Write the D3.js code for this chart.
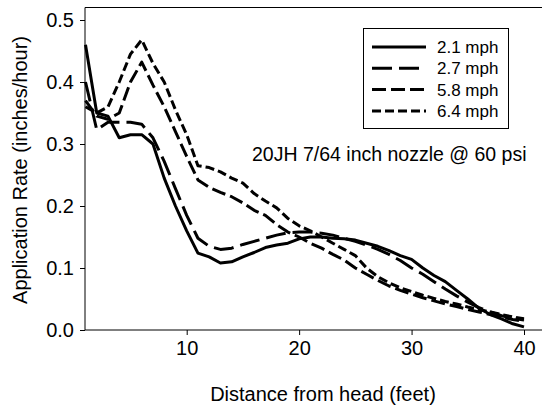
<!DOCTYPE html>
<html>
<head>
<meta charset="utf-8">
<script src="https://cdn.jsdelivr.net/npm/d3@7"></script>
<style>
  body { margin: 0; background: #fff; }
  svg { display: block; font-family: "Liberation Sans", Arial, sans-serif; }
</style>
</head>
<body>
<div class="chart"></div>
<script>
var w = 542;
var h = 408;

// Distance from head (feet)
var distance = [1, 2, 3, 4, 5, 6, 7, 8, 9, 10, 11, 12, 13, 14, 15, 16, 17, 18, 19, 20,
                21, 22, 23, 24, 25, 26, 27, 28, 29, 30, 31, 32, 33, 34, 35, 36, 37, 38, 39, 40];

// Application rate (inches/hour) for each travel speed
var rate21 = [0.46, 0.35, 0.345, 0.31, 0.315, 0.315, 0.30, 0.245, 0.20, 0.16,
              0.124, 0.118, 0.108, 0.11, 0.118, 0.125, 0.133, 0.137, 0.14, 0.147,
              0.15, 0.15, 0.148, 0.147, 0.145, 0.14, 0.135, 0.128, 0.12, 0.114,
              0.10, 0.088, 0.078, 0.064, 0.05, 0.035, 0.025, 0.018, 0.01, 0.005];
var rate27 = [0.40, 0.323, 0.335, 0.335, 0.335, 0.332, 0.31, 0.272, 0.228, 0.185,
              0.148, 0.135, 0.13, 0.132, 0.138, 0.143, 0.148, 0.153, 0.157, 0.158,
              0.158, 0.156, 0.153, 0.148, 0.143, 0.137, 0.13, 0.122, 0.112, 0.10,
              0.09, 0.078, 0.066, 0.055, 0.045, 0.036, 0.029, 0.023, 0.019, 0.016];
var rate58 = [0.37, 0.345, 0.34, 0.35, 0.40, 0.432, 0.395, 0.36, 0.32, 0.28,
              0.242, 0.23, 0.222, 0.215, 0.205, 0.193, 0.185, 0.17, 0.158, 0.15,
              0.14, 0.132, 0.122, 0.113, 0.10, 0.09, 0.08, 0.071, 0.064, 0.058,
              0.052, 0.047, 0.042, 0.038, 0.033, 0.029, 0.025, 0.021, 0.017, 0.014];
var rate64 = [0.36, 0.35, 0.36, 0.40, 0.445, 0.468, 0.43, 0.40, 0.355, 0.315,
              0.265, 0.262, 0.255, 0.245, 0.237, 0.22, 0.208, 0.197, 0.18, 0.168,
              0.16, 0.15, 0.14, 0.13, 0.12, 0.10, 0.086, 0.076, 0.068, 0.062,
              0.056, 0.051, 0.046, 0.042, 0.037, 0.033, 0.029, 0.025, 0.021, 0.018];

var speeds = ["2.1 mph", "2.7 mph", "5.8 mph", "6.4 mph"];
var dashes = ["none", "20,7", "14,5", "9,4"];
var xTicks = [10, 20, 30, 40];
var yTicks = [0, 0.1, 0.2, 0.3, 0.4, 0.5];

var series = [rate21, rate27, rate58, rate64].map(function (vals, i) {
    return { name: speeds[i], dash: dashes[i], values: vals.map(function (v, j) { return [distance[j], v]; }) };
});

//Scales
var x = d3.scaleLinear().domain([1, 40]).range([85.5, 524]);
var y = d3.scaleLinear().domain([0, 0.5]).range([330, 20]);

var svg = d3.select(".chart")
    .append("svg")
    .attr("width", w)
    .attr("height", h);

// Frame: top line, left axis, bottom axis (right side runs off the picture)
svg.append("line")
    .attr("x1", 85).attr("x2", w)
    .attr("y1", 7.5).attr("y2", 7.5)
    .attr("stroke", "#000").attr("stroke-width", 1);

var xAxis = svg.append("g")
    .attr("transform", "translate(0,330)")
    .call(d3.axisBottom(x).tickValues(xTicks).tickSize(5).tickPadding(6).tickFormat(d3.format("d")));
xAxis.select(".domain").attr("d", "M85," + 0 + "H" + w);

var yAxis = svg.append("g")
    .attr("transform", "translate(85,0)")
    .call(d3.axisLeft(y).tickValues(yTicks).tickSize(5).tickPadding(6).tickFormat(d3.format(".1f")));
yAxis.select(".domain").attr("d", "M0,7.5V330");

svg.selectAll(".tick text")
    .attr("font-size", 20)
    .attr("font-family", "Liberation Sans, Arial, sans-serif")
    .attr("fill", "#000");
svg.selectAll(".tick line").attr("stroke", "#000");
svg.selectAll(".domain").attr("stroke", "#000");

// Axis titles
svg.append("text")
    .attr("x", 323)
    .attr("y", 401)
    .attr("text-anchor", "middle")
    .attr("font-size", 20)
    .text("Distance from head (feet)");

svg.append("text")
    .attr("transform", "translate(27,170) rotate(-90)")
    .attr("text-anchor", "middle")
    .attr("font-size", 20)
    .text("Application Rate (inches/hour)");

// Lines
var line = d3.line()
    .x(function (d) { return x(d[0]); })
    .y(function (d) { return y(d[1]); });

svg.selectAll(".series")
    .data(series)
    .enter()
    .append("path")
    .attr("class", "series")
    .attr("d", function (d) { return line(d.values); })
    .attr("fill", "none")
    .attr("stroke", "#000")
    .attr("stroke-width", 3)
    .attr("stroke-linejoin", "round")
    .attr("stroke-dasharray", function (d) { return d.dash; });

// Annotation
svg.append("text")
    .attr("x", 252)
    .attr("y", 161)
    .attr("font-size", 19.5)
    .text("20JH 7/64 inch nozzle @ 60 psi");

// Legend
var legend = svg.append("g");
legend.append("rect")
    .attr("x", 363.5).attr("y", 28.5)
    .attr("width", 145).attr("height", 100)
    .attr("fill", "#fff")
    .attr("stroke", "#000")
    .attr("stroke-width", 1);

var rows = legend.selectAll(".row")
    .data(series)
    .enter()
    .append("g")
    .attr("transform", function (d, i) { return "translate(0," + (47 + i * 21.3) + ")"; });

rows.append("line")
    .attr("x1", 372).attr("x2", 426)
    .attr("stroke", "#000")
    .attr("stroke-width", 3)
    .attr("stroke-dasharray", function (d) { return d.dash; });

rows.append("text")
    .attr("x", 437)
    .attr("y", 6)
    .attr("font-size", 17)
    .text(function (d) { return d.name; });
</script>
</body>
</html>
